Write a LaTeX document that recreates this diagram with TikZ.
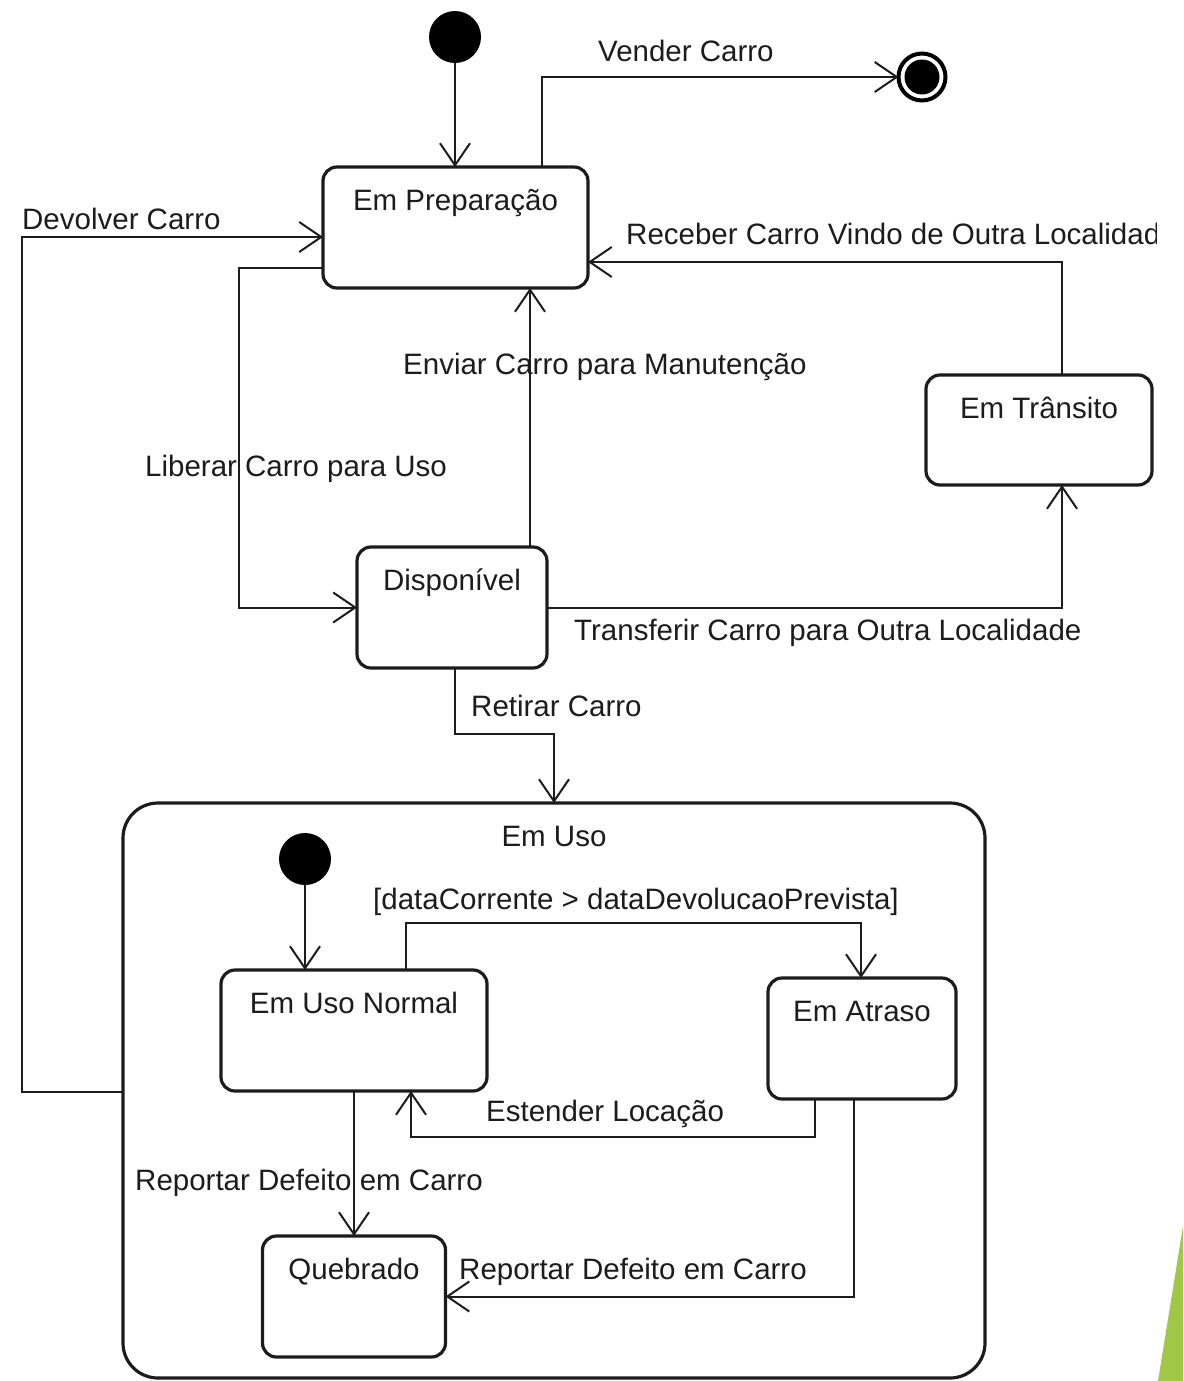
\documentclass[tikz,border=0pt]{standalone}
\usepackage{fontspec}
\setmainfont{Liberation Sans}
\usetikzlibrary{arrows.meta}
\definecolor{ink}{RGB}{28,28,28}
\definecolor{accent}{RGB}{160,200,70}

\tikzset{
  statebox/.style={draw=ink, line width=3.2pt, rounded corners=14pt, fill=white,
                   inner sep=0pt, outer sep=0pt},
  initdot/.style={circle, fill=black, minimum size=52pt, inner sep=0pt, outer sep=0pt},
  finaldot/.style={circle, draw=black, line width=4pt, minimum size=47pt, inner sep=0pt,
                   outer sep=0pt,
                   path picture={\fill[black] (path picture bounding box.center) circle (17.5pt);}},
  txt/.style={text=ink, inner sep=0pt, anchor=base west,
              font=\fontsize{29.5}{35}\selectfont},
  boxtxt/.style={text=ink, inner sep=0pt, anchor=base,
                 font=\fontsize{29.5}{35}\selectfont},
  arr/.style={draw=ink, line width=2pt,
              -{Straight Barb[length=22pt, width=30pt, line width=2pt]}},
}

\begin{document}
\begin{tikzpicture}[x=1pt, y=-1pt]
\useasboundingbox (0,0) rectangle (1183,1381);

% top-level states
\node[initdot] (init1) at (455,37) {};
\node[finaldot] (fin) at (922,77) {};
\node[statebox, minimum width=265pt, minimum height=121pt] (prep) at (455.5,227.5) {};
\node[boxtxt] (prepl) at ([yshift=-43.5pt]prep.north) {Em Preparação};
\node[statebox, minimum width=226pt, minimum height=110pt] (trans) at (1039,430) {};
\node[boxtxt] (transl) at ([yshift=-43.5pt]trans.north) {Em Trânsito};
\node[statebox, minimum width=190pt, minimum height=121pt] (disp) at (452,607.5) {};
\node[boxtxt] (displ) at ([yshift=-43.5pt]disp.north) {Disponível};

% composite state
\node[statebox, rounded corners=35pt, minimum width=862pt, minimum height=575pt] (emuso) at (554,1090.5) {};
\node[boxtxt] (emusol) at ([yshift=-43.5pt]emuso.north) {Em Uso};
\node[initdot] (init2) at (305,859) {};
\node[statebox, minimum width=266pt, minimum height=121pt] (normal) at (354,1030.5) {};
\node[boxtxt] (normall) at ([yshift=-43.5pt]normal.north) {Em Uso Normal};
\node[statebox, minimum width=188pt, minimum height=121pt] (atraso) at (862,1038.5) {};
\node[boxtxt] (atrasol) at ([yshift=-43.5pt]atraso.north) {Em Atraso};
\node[statebox, minimum width=183pt, minimum height=121pt] (queb) at (354,1296.5) {};
\node[boxtxt] (quebl) at ([yshift=-43.5pt]queb.north) {Quebrado};

% bend points
\coordinate (dv) at (22,237);
\coordinate (lb) at (239,268);
\coordinate (rt) at (455,734);
\coordinate (dc) at (406,923);
\coordinate (es) at (815,1137);

% transitions
\draw[arr] (init1) -- (init1 |- prep.north);
\draw[arr] ([xshift=86.5pt]prep.north) |- (fin);
\draw[arr] ([yshift=-1.5pt]emuso.west) -| (dv) -- ([yshift=-9.5pt]prep.west);
\draw[arr] ([yshift=-40.5pt]prep.west) -- (lb) |- (disp.west);
\draw[arr] ([xshift=78pt]disp.north) -- ([xshift=74.5pt]prep.south);
\draw[arr] ([xshift=23pt]trans.north) |- ([yshift=-34.5pt]prep.east);
\draw[arr] (disp.east) -| ([xshift=23pt]trans.south);
\draw[arr] ([xshift=3pt]disp.south) -- (rt) -| (emuso.north);
\draw[arr] (init2) -- (init2 |- normal.north);
\draw[arr] ([xshift=52pt]normal.north) -- (dc) -| ([xshift=-1pt]atraso.north);
\draw[arr] ([xshift=-47pt]atraso.south) -- (es) -| ([xshift=57pt]normal.south);
\draw[arr] (normal.south) -- (queb.north);
\draw[arr] ([xshift=-8pt]atraso.south) |- (queb.east);

% transition labels
\node[txt] (lvender) at (598,62) {Vender Carro};
\node[txt] (ldevolver) at (22,229) {Devolver Carro};
\begin{scope}
  \clip (0,0) rectangle (1156,1381);
  \node[txt] (lreceber) at (626,244) {Receber Carro Vindo de Outra Localidade};
\end{scope}
\node[txt] (lenviar) at (403,374) {Enviar Carro para Manutenção};
\node[txt] (lliberar) at (145,476) {Liberar Carro para Uso};
\node[txt] (ltransf) at (574,640) {Transferir Carro para Outra Localidade};
\node[txt] (lretirar) at (471,716) {Retirar Carro};
\node[txt] (lguard) at (373,909) {[dataCorrente > dataDevolucaoPrevista]};
\node[txt] (lestender) at (486,1121) {Estender Locação};
\node[txt] (lreport1) at (135,1190) {Reportar Defeito em Carro};
\node[txt] (lreport2) at (459,1279) {Reportar Defeito em Carro};

% corner accent
\fill[accent] (1183,1226) -- (1158,1381) -- (1183,1381) -- cycle;
\end{tikzpicture}
\end{document}
